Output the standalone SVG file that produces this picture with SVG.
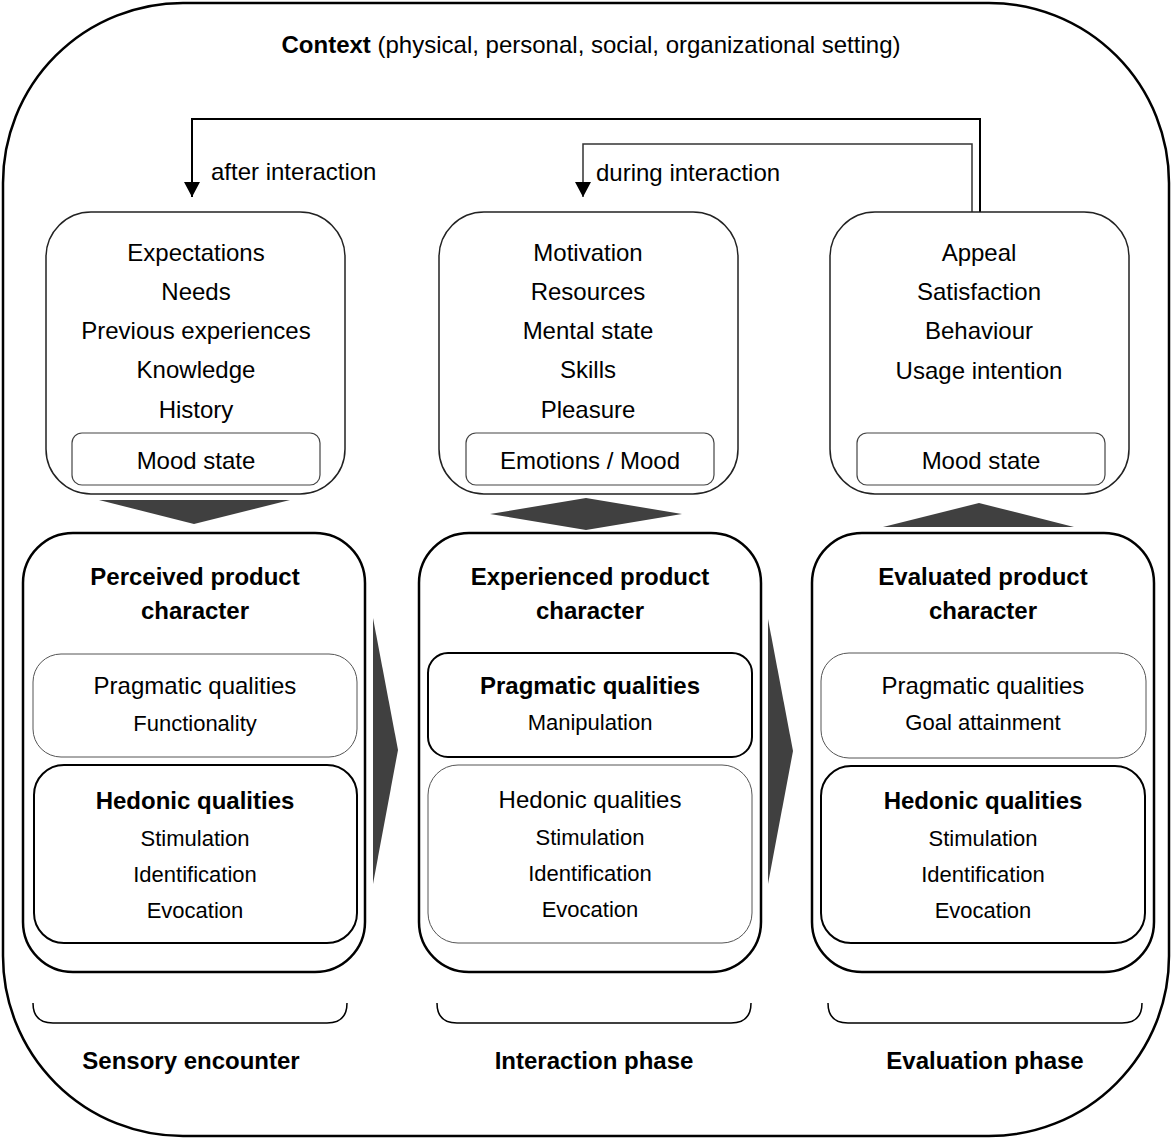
<svg xmlns="http://www.w3.org/2000/svg" width="1174" height="1140" viewBox="0 0 1174 1140">
<defs>
<marker id="ah" markerWidth="16" markerHeight="16" refX="15" refY="8" orient="auto" markerUnits="userSpaceOnUse">
<path d="M0,0 L15,8 L0,16 Z" fill="#000"/>
</marker>
<style>
text{font-family:"Liberation Sans",Arial,sans-serif;fill:#000;text-anchor:middle}
.t{font-size:24px}
.s{font-size:22px}
.b{font-weight:bold}
.top{fill:#fff;stroke:#222;stroke-width:1.5}
.mood{fill:#fff;stroke:#444;stroke-width:1.2}
.big{fill:#fff;stroke:#000;stroke-width:2.5}
.thin{fill:#fff;stroke:#555;stroke-width:1}
.thick{fill:#fff;stroke:#000;stroke-width:2}
.arr{fill:#404040}
.br{fill:none;stroke:#000;stroke-width:1.5}
</style>
</defs>
<rect x="3" y="3" width="1166" height="1133" rx="180" ry="180" fill="#fff" stroke="#000" stroke-width="2.5"/>
<text x="591" y="53" class="t"><tspan class="b">Context</tspan> (physical, personal, social, organizational setting)</text>

<g id="connectors">
<path d="M980,212 V119 H192 V197" fill="none" stroke="#000" stroke-width="2" marker-end="url(#ah)"/>
<path d="M972,212 V144 H583 V197" fill="none" stroke="#333" stroke-width="1.5" marker-end="url(#ah)"/>
<text x="211" y="180" class="t" style="text-anchor:start">after interaction</text>
<text x="596" y="181" class="t" style="text-anchor:start">during interaction</text>
<polygon class="arr" points="99,500 290,500 194,524"/>
<polygon class="arr" points="490,514 586,498 682,514 586,530"/>
<polygon class="arr" points="883,527 979,503 1074,527"/>
<polygon class="arr" points="373,618 398,750 373,884"/>
<polygon class="arr" points="768,619 793,751 768,884"/>
</g>

<g id="before">
<rect class="top" x="46" y="212" width="299" height="282" rx="45"/>
<text class="t" x="196" y="261">Expectations</text>
<text class="t" x="196" y="300">Needs</text>
<text class="t" x="196" y="339">Previous experiences</text>
<text class="t" x="196" y="378">Knowledge</text>
<text class="t" x="196" y="418">History</text>
<rect class="mood" x="72" y="433" width="248" height="52" rx="10"/>
<text class="t" x="196" y="469">Mood state</text>
</g>

<g id="during">
<rect class="top" x="439" y="212" width="299" height="282" rx="45"/>
<text class="t" x="588" y="261">Motivation</text>
<text class="t" x="588" y="300">Resources</text>
<text class="t" x="588" y="339">Mental state</text>
<text class="t" x="588" y="378">Skills</text>
<text class="t" x="588" y="418">Pleasure</text>
<rect class="mood" x="466" y="433" width="248" height="52" rx="10"/>
<text class="t" x="590" y="469">Emotions / Mood</text>
</g>

<g id="after">
<rect class="top" x="830" y="212" width="299" height="282" rx="45"/>
<text class="t" x="979" y="261">Appeal</text>
<text class="t" x="979" y="300">Satisfaction</text>
<text class="t" x="979" y="339">Behaviour</text>
<text class="t" x="979" y="379">Usage intention</text>
<rect class="mood" x="857" y="433" width="248" height="52" rx="10"/>
<text class="t" x="981" y="469">Mood state</text>
</g>

<g id="perceived">
<rect class="big" x="23" y="533" width="342" height="439" rx="50"/>
<text class="t b" x="195" y="585">Perceived product</text>
<text class="t b" x="195" y="619">character</text>
<rect class="thin" x="33" y="654" width="324" height="103" rx="28"/>
<text class="t" x="195" y="694">Pragmatic qualities</text>
<text class="s" x="195" y="731">Functionality</text>
<rect class="thick" x="34" y="765" width="323" height="178" rx="30"/>
<text class="t b" x="195" y="809">Hedonic qualities</text>
<text class="s" x="195" y="846">Stimulation</text>
<text class="s" x="195" y="882">Identification</text>
<text class="s" x="195" y="918">Evocation</text>
</g>

<g id="experienced">
<rect class="big" x="419" y="533" width="342" height="439" rx="50"/>
<text class="t b" x="590" y="585">Experienced product</text>
<text class="t b" x="590" y="619">character</text>
<rect class="thick" x="428" y="653" width="324" height="104" rx="20"/>
<text class="t b" x="590" y="694">Pragmatic qualities</text>
<text class="s" x="590" y="730">Manipulation</text>
<rect class="thin" x="428" y="765" width="324" height="178" rx="30"/>
<text class="t" x="590" y="808">Hedonic qualities</text>
<text class="s" x="590" y="845">Stimulation</text>
<text class="s" x="590" y="881">Identification</text>
<text class="s" x="590" y="917">Evocation</text>
</g>

<g id="evaluated">
<rect class="big" x="812" y="533" width="342" height="439" rx="50"/>
<text class="t b" x="983" y="585">Evaluated product</text>
<text class="t b" x="983" y="619">character</text>
<rect class="thin" x="821" y="653" width="325" height="105" rx="28"/>
<text class="t" x="983" y="694">Pragmatic qualities</text>
<text class="s" x="983" y="730">Goal attainment</text>
<rect class="thick" x="821" y="766" width="324" height="177" rx="30"/>
<text class="t b" x="983" y="809">Hedonic qualities</text>
<text class="s" x="983" y="846">Stimulation</text>
<text class="s" x="983" y="882">Identification</text>
<text class="s" x="983" y="918">Evocation</text>
</g>

<g id="phases">
<path class="br" d="M33,1003 Q33,1023 53,1023 H327 Q347,1023 347,1003"/>
<path class="br" d="M437,1003 Q437,1023 457,1023 H731 Q751,1023 751,1003"/>
<path class="br" d="M828,1003 Q828,1023 848,1023 H1122 Q1142,1023 1142,1003"/>
<text class="t b" x="191" y="1069">Sensory encounter</text>
<text class="t b" x="594" y="1069">Interaction phase</text>
<text class="t b" x="985" y="1069">Evaluation phase</text>
</g>
</svg>
